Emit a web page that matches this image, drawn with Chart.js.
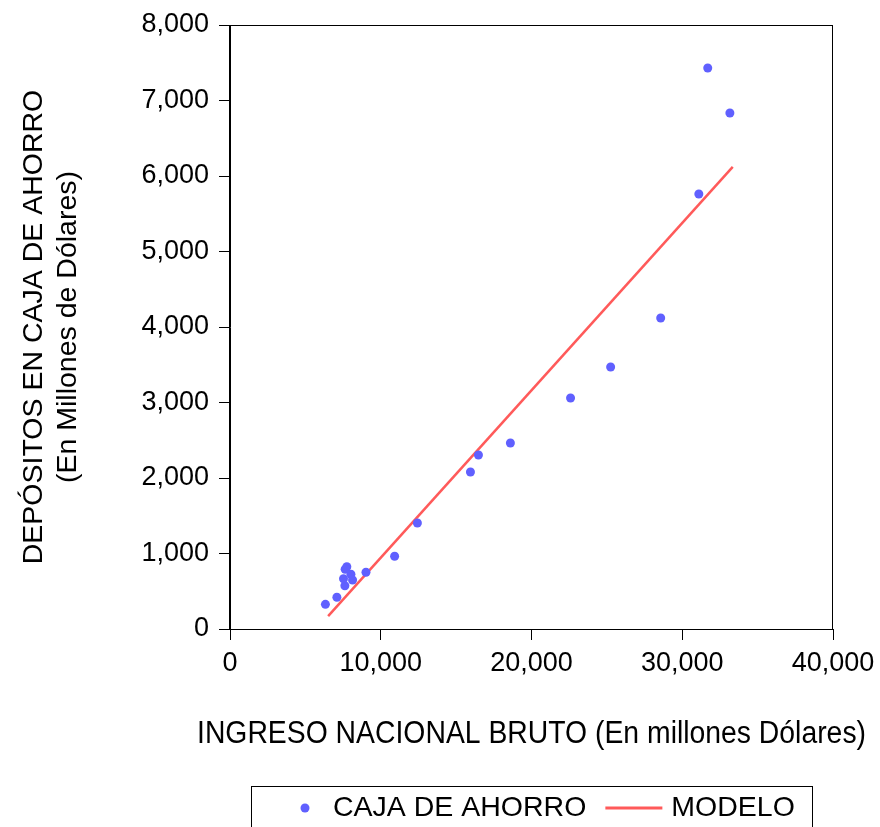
<!DOCTYPE html>
<html lang="es">
<head>
  <meta charset="UTF-8" />
  <title>Depósitos en caja de ahorro vs ingreso nacional bruto</title>
  <script src="https://cdn.jsdelivr.net/npm/chart.js"></script>
  <style>
    body { margin: 0; background: #fff; }
    #caja { width: 880px; height: 827px; }
  </style>
</head>
<body>
  <div id="caja"><canvas id="grafico"></canvas></div>
  <script>
    // ingreso nacional bruto (x) y depósitos (y)
    const cajaIngreso = [6330, 7090, 7620, 7530, 7750, 7640, 8020, 8130, 9020, 10920,
      12430, 15950, 16480, 18600, 22590, 25250, 28570, 31100, 31690, 33160];
    const cajaDepositos = [327, 420, 573, 666, 825, 791, 725, 649, 751, 963,
      1404, 2079, 2305, 2464, 3060, 3470, 4119, 5762, 7430, 6834];

    // recta del modelo (extremos)
    const modeloIngreso = [6510, 33350];
    const modeloDepositos = [170, 6120];

    const ticksX = [0, 10000, 20000, 30000, 40000];
    const ticksY = [0, 1000, 2000, 3000, 4000, 5000, 6000, 7000, 8000];

    const tituloX = 'INGRESO NACIONAL BRUTO (En millones Dólares)';

    const azul = 'rgb(96, 96, 255)';
    const rojo = 'rgb(255, 90, 90)';
    const fuente = '"Liberation Sans", Arial, sans-serif';

    const aPuntos = (xs, ys) => xs.map((x, i) => ({ x: x, y: ys[i] }));

    // marco del área de datos, título X (comprimido como en EViews) y leyenda con borde
    const marcoYLeyenda = {
      id: 'marcoYLeyenda',
      afterDraw(chart) {
        const { ctx, chartArea: a } = chart;
        ctx.save();
        ctx.strokeStyle = '#000';
        ctx.lineWidth = 1;
        ctx.strokeRect(a.left - 0.5, a.top + 0.5, a.right - a.left, a.bottom - a.top);

        // título del eje X: más ancho que el área, texto algo comprimido
        const cx = (a.left + a.right) / 2;
        ctx.fillStyle = '#000';
        ctx.font = '31px ' + fuente;
        ctx.textAlign = 'center';
        ctx.textBaseline = 'alphabetic';
        ctx.fillText(tituloX, cx, a.bottom + 114, a.right - a.left + 66);

        // leyenda
        ctx.textAlign = 'left';
        const top = a.bottom + 157;
        const izq = a.left + 21;
        const der = a.right - 21;
        ctx.strokeRect(izq + 0.5, top + 0.5, der - izq, 60);
        const yc = top + 22;
        const ds = chart.data.datasets;
        ctx.font = '28.5px ' + fuente;
        ctx.textBaseline = 'middle';

        let x = izq + 54;
        ctx.beginPath();
        ctx.fillStyle = ds[0].backgroundColor;
        ctx.arc(x, yc, 4.5, 0, Math.PI * 2);
        ctx.fill();
        x += 28;
        ctx.fillStyle = '#000';
        ctx.fillText(ds[0].label, x, yc);
        x += ctx.measureText(ds[0].label).width + 19;

        ctx.beginPath();
        ctx.strokeStyle = ds[1].borderColor;
        ctx.lineWidth = 3;
        ctx.moveTo(x, yc);
        ctx.lineTo(x + 57, yc);
        ctx.stroke();
        x += 66;
        ctx.fillText(ds[1].label, x, yc);
        ctx.restore();
      }
    };

    new Chart(document.getElementById('grafico'), {
      type: 'scatter',
      data: {
        datasets: [
          {
            label: 'CAJA DE AHORRO',
            data: aPuntos(cajaIngreso, cajaDepositos),
            backgroundColor: azul,
            borderColor: azul,
            pointRadius: 4.5,
            pointBorderWidth: 0
          },
          {
            label: 'MODELO',
            data: aPuntos(modeloIngreso, modeloDepositos),
            showLine: true,
            borderColor: rojo,
            backgroundColor: rojo,
            borderWidth: 2.5,
            pointRadius: 0
          }
        ]
      },
      options: {
        responsive: true,
        maintainAspectRatio: false,
        animation: false,
        layout: { padding: { top: 25, right: 47, left: 0, bottom: 42 } },
        plugins: {
          legend: { display: false },
          tooltip: { enabled: false }
        },
        scales: {
          x: {
            type: 'linear',
            min: 0,
            max: 40000,
            afterFit: s => { s.height = 156; s.paddingLeft = 0; s.paddingRight = 0; },
            afterBuildTicks: s => { s.ticks = ticksX.map(v => ({ value: v })); },
            ticks: {
              color: '#000',
              padding: 7,
              font: { family: fuente, size: 27 },
              callback: v => v.toLocaleString('en-US')
            },
            grid: { drawOnChartArea: false, drawTicks: true, tickLength: 11, color: '#000' },
            border: { display: true, color: '#000' },
            title: { display: false }
          },
          y: {
            type: 'linear',
            min: 0,
            max: 8000,
            afterFit: s => { s.width = 230; s.paddingTop = 0; s.paddingBottom = 0; },
            afterBuildTicks: s => { s.ticks = ticksY.map(v => ({ value: v })); },
            ticks: {
              color: '#000',
              padding: 10,
              font: { family: fuente, size: 27 },
              callback: v => v.toLocaleString('en-US')
            },
            grid: { drawOnChartArea: false, drawTicks: true, tickLength: 11, color: '#000' },
            border: { display: true, color: '#000' },
            title: {
              display: true,
              text: ['DEPÓSITOS EN CAJA DE AHORRO', '(En Millones de Dólares)'],
              color: '#000',
              font: { family: fuente, size: 28.5 },
              padding: { top: 17, bottom: 0 }
            }
          }
        }
      },
      plugins: [marcoYLeyenda]
    });
  </script>
</body>
</html>
